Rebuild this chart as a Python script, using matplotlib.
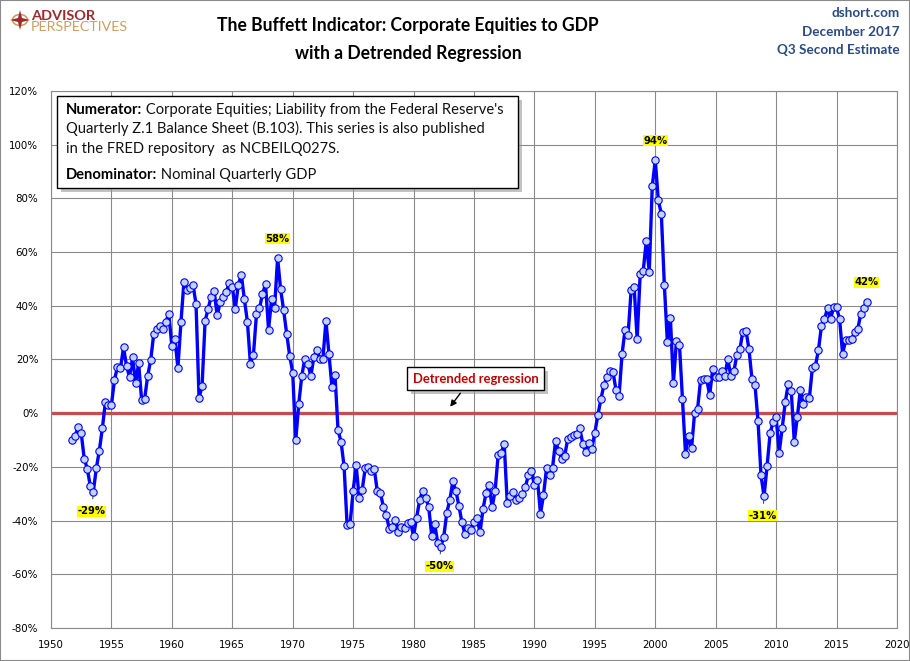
import matplotlib
matplotlib.use('Agg')
import matplotlib.pyplot as plt
from matplotlib.patches import Rectangle, Circle, Polygon, FancyArrowPatch
import numpy as np

# ---------------- data (quarterly, % above/below detrended regression) ----------------
start_year = 1951.75  # 1951 Q4
vals_1950s = [-9.9,
              -8.4, -5.3, -7.4, -17.0,
              -20.6, -27.1, -29.3, -20.5,
              -13.9, -5.5, 4.1, 3.1,
              3.1, 12.3, 17.3, 16.8,
              24.5, 17.6, 13.5, 20.8,
              11.1, 18.6, 4.8, 5.4,
              13.9, 19.8, 29.5, 31.5,
              32.5, 31.5, 34.0, 37.0]
vals_1960s = [24.9, 27.7, 16.9, 33.8,
              48.9, 45.9, 46.5, 47.9,
              40.6, 5.6, 10.1, 34.3,
              38.9, 43.3, 45.5, 36.4,
              41.3, 43.1, 45.3, 48.4,
              47.1, 38.9, 47.9, 51.5,
              42.4, 34.1, 18.4, 21.8,
              36.8, 39.0, 44.4, 48.1,
              31.1, 42.4, 39.3, 57.8,
              46.1, 38.3, 29.6, 21.4]
vals_1970s = [15.1, -10.1, 3.4, 13.9,
              20.3, 18.4, 13.8, 20.9,
              23.6, 20.3, 20.3, 34.4,
              21.9, 9.6, 14.3, -6.4,
              -10.6, -19.8, -41.6, -41.1,
              -28.9, -19.4, -31.6, -28.5,
              -20.4, -20.1, -21.4, -20.9,
              -29.1, -29.6, -34.8, -38.1,
              -43.3, -42.4, -39.9, -44.3,
              -42.4, -42.6, -41.0, -40.6]
vals_1980s = [-45.8, -38.9, -32.5, -28.8,
              -31.6, -34.8, -45.6, -41.4,
              -48.3, -49.8, -46.0, -37.0,
              -32.3, -25.4, -28.9, -34.5,
              -40.6, -45.0, -42.6, -43.5,
              -40.6, -39.1, -44.4, -35.6,
              -29.6, -26.6, -35.1, -28.8,
              -15.4, -14.9, -11.4, -33.4,
              -31.0, -29.5, -32.5, -31.4,
              -30.2, -27.5, -23.1, -21.7]
vals_1990s = [-26.8, -24.7, -37.4, -30.6,
              -20.5, -23.2, -20.3, -10.3,
              -14.0, -16.9, -16.0, -9.7,
              -8.8, -8.1, -7.6, -5.6,
              -11.3, -14.4, -11.1, -13.2,
              -7.2, -0.7, 5.2, 10.5,
              13.4, 15.6, 15.4, 8.6,
              6.3, 22.0, 31.1, 29.3,
              45.7, 46.9, 27.5, 51.9,
              52.9, 64.0, 52.6, 84.6]
vals_2000s = [94.3, 79.3, 74.3, 47.8,
              26.4, 35.5, 11.2, 27.0,
              25.5, 5.2, -15.1, -8.5,
              -13.1, 0.0, 1.6, 12.5,
              12.7, 12.7, 6.7, 16.4,
              13.3, 13.6, 15.8, 13.8,
              20.2, 13.8, 15.6, 21.7,
              23.9, 30.4, 30.8, 23.9,
              12.7, 10.5, -2.9, -23.2,
              -31.0, -19.7, -7.5, -3.2]
vals_2010s = [-1.4, -14.7, -5.6, 4.0,
              10.8, 8.3, -10.6, -1.6,
              8.7, 3.4, 6.1, 5.6,
              17.0, 17.6, 23.5, 32.5,
              35.0, 39.1, 35.0, 39.4,
              39.4, 35.0, 22.0, 27.2,
              27.2, 27.6, 30.1, 31.3,
              36.9, 39.1, 41.5]

# labelled extremes: (year, value, label)
callout_years = [1953.5, 1968.75, 1982.25, 2000.0, 2009.0, 2017.5]
callout_texts = ['-29%', '58%', '-50%', '94%', '-31%', '42%']

title_lines = ['The Buffett Indicator: Corporate Equities to GDP', 'with a Detrended Regression']
corner_lines = ['dshort.com', 'December 2017', 'Q3 Second Estimate']

values = np.array(vals_1950s + vals_1960s + vals_1970s + vals_1980s +
                  vals_1990s + vals_2000s + vals_2010s)
dates = start_year + 0.25 * np.arange(len(values))

# ---------------- figure ----------------
W, H = 910, 661
fig = plt.figure(figsize=(W / 100, H / 100), dpi=100)
renderer = fig.canvas.get_renderer()


def fx(px):
    return px / W


def fy(py):
    return 1 - py / H


ax = fig.add_axes([fx(51), fy(628), (897 - 51) / W, (628 - 91) / H])
ax.set_xlim(1950, 2020)
ax.set_ylim(-80, 120)
ax.set_xticks(range(1950, 2021, 5))
yt = list(range(-80, 121, 20))
ax.set_yticks(yt)
ax.set_yticklabels([f'{v}%' for v in yt])
ax.grid(True, color='#8a8a8a', lw=0.8)
ax.set_axisbelow(True)
for s in ax.spines.values():
    s.set_color('#8a8a8a')
    s.set_linewidth(0.8)
ax.tick_params(length=0, labelsize=7.4, colors='black')
ax.tick_params(axis='y', pad=9)
ax.tick_params(axis='x', pad=9)

ax.axhline(0, color='#C0504D', lw=2.4, zorder=2)
ax.plot(dates, values, color='#0000FF', lw=2.4, marker='o', ms=5.3,
        mfc='#C3D3F5', mec='#0000FF', mew=0.8, zorder=3)

# callouts
lookup = dict(zip(np.round(dates, 2), values))
for yr, txt in zip(callout_years, callout_texts):
    v = lookup[round(yr, 2)]
    if v > 0:
        ax.annotate(txt, (yr, v), xytext=(0, 14), textcoords='offset points',
                    ha='center', va='center', fontsize=7.2, fontweight='bold',
                    bbox=dict(boxstyle='square,pad=0.05', fc='#FFFF00', ec='none'),
                    zorder=5)
    else:
        ax.annotate(txt, (yr, v), xytext=(-1, -14), textcoords='offset points',
                    ha='center', va='center', fontsize=7.2, fontweight='bold',
                    bbox=dict(boxstyle='square,pad=0.05', fc='#FFFF00', ec='none'),
                    arrowprops=dict(arrowstyle='-', color='#333333', lw=0.7,
                                    shrinkA=5, shrinkB=3),
                    zorder=5)

# ---------------- helper for fitted text ----------------


def text_width(s, size=10, **kw):
    t = fig.text(0, 0, s, fontsize=size, **kw)
    w = t.get_window_extent(renderer).width
    t.remove()
    return w


# title
tw = text_width(title_lines[0], family='Lato', fontweight='bold')
tsize = 10 * 383 / tw
fig.text(fx(408), fy(25), title_lines[0], fontsize=tsize, family='Lato',
         fontweight='bold', ha='center', va='center')
fig.text(fx(408), fy(54), title_lines[1], fontsize=tsize, family='Lato',
         fontweight='bold', ha='center', va='center')

# corner text
cw = text_width(corner_lines[2], family='Lato', fontweight='bold')
csize = 10 * 122 / cw
for line, py in zip(corner_lines, [13, 32, 50]):
    fig.text(fx(900), fy(py), line, fontsize=csize, family='Lato',
             fontweight='bold', color='#2B4A80', ha='right', va='center')

# logo
fig.add_artist(Circle((fx(20), fy(20)), 7.5 / W, transform=fig.transFigure,
                      fc='none', ec='#C9A063', lw=1.2))
star = [(20, 10), (22, 18), (30, 20), (22, 22), (20, 30), (18, 22), (10, 20), (18, 18)]
fig.add_artist(Polygon([(fx(a), fy(b)) for a, b in star], closed=True,
                       transform=fig.transFigure, fc='#9E2A2B', ec='none'))
aw = text_width('ADVISOR', family='Lato', fontweight='bold')
fig.text(fx(31), fy(16), 'ADVISOR', fontsize=10 * 64 / aw, family='Lato',
         fontweight='bold', color='#9E2A2B', ha='left', va='center')
pw = text_width('PERSPECTIVES', family='Lato')
fig.text(fx(31), fy(27), 'PERSPECTIVES', fontsize=10 * 97 / pw, family='Lato',
         color='#C9A063', ha='left', va='center')

# ---------------- explanatory box ----------------


def shadow_box(x0, y0, x1, y1):
    fig.add_artist(Rectangle((fx(x0 + 4), fy(y1 + 4)), (x1 - x0) / W, (y1 - y0) / H,
                             transform=fig.transFigure, fc='#9a9a9a', ec='none',
                             alpha=0.6, zorder=6))
    fig.add_artist(Rectangle((fx(x0), fy(y1)), (x1 - x0) / W, (y1 - y0) / H,
                             transform=fig.transFigure, fc='white', ec='black',
                             lw=1.0, zorder=7))


shadow_box(57, 96, 518, 188)
b1 = 'Numerator:'
r1 = ' Corporate Equities; Liability from the Federal Reserve\'s'
w_tot = text_width(b1, family='Lato', fontweight='bold') + text_width(r1, family='Lato')
bsize = 10 * 438 / w_tot


def rich(px, py, bold, rest):
    x = px
    if bold:
        t = fig.text(fx(x), fy(py), bold, fontsize=bsize, family='Lato',
                     fontweight='bold', va='baseline', ha='left', zorder=8)
        x += t.get_window_extent(renderer).width
    fig.text(fx(x), fy(py), rest, fontsize=bsize, family='Lato',
             va='baseline', ha='left', zorder=8, color='#111111')


rich(66, 114, b1, r1)
rich(66, 133.5, '', 'Quarterly Z.1 Balance Sheet (B.103). This series is also published')
rich(66, 153, '', 'in the FRED repository  as NCBEILQ027S.')
rich(66, 179, 'Denominator:', ' Nominal Quarterly GDP')

# ---------------- detrended regression label ----------------
shadow_box(407, 367, 544, 390)
dw = text_width('Detrended regression', family='Lato', fontweight='bold')
fig.text(fx(475.5), fy(378.5), 'Detrended regression', fontsize=10 * 126 / dw,
         family='Lato', fontweight='bold', color='#C00000', ha='center',
         va='center', zorder=8)
fig.add_artist(FancyArrowPatch((fx(462), fy(391)), (fx(448.5), fy(409)),
                               transform=fig.transFigure, arrowstyle='-|>',
                               mutation_scale=9, color='black', lw=1.0, zorder=8))

# outer frame
fig.add_artist(Rectangle((0, 0), 1, 1, transform=fig.transFigure, fc='none',
                         ec='#8a8a8a', lw=1.5, zorder=10))

fig.savefig('out.png', dpi=100)
